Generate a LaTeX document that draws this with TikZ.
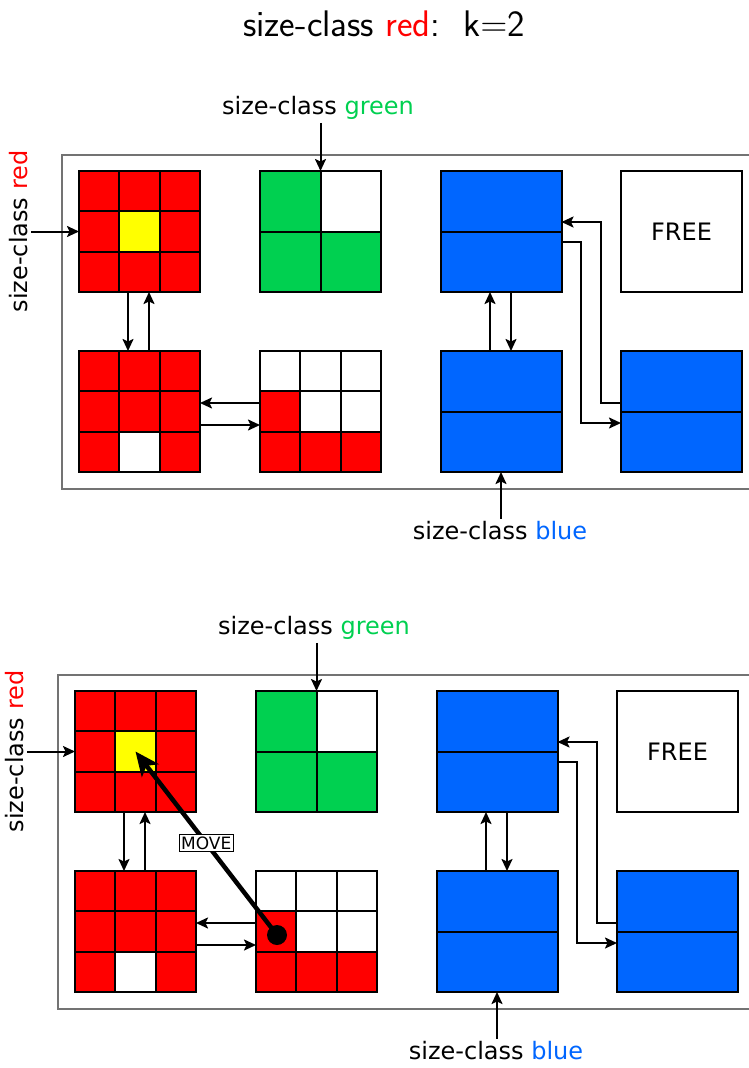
\RequirePackage{fix-cm}
\documentclass[tikz,border=0pt]{standalone}
\usepackage{fontspec}
\newfontfamily\labfont{DejaVu Sans}
\usetikzlibrary{arrows.meta,calc}

\definecolor{cred}{RGB}{255,0,0}
\definecolor{cyel}{RGB}{255,255,0}
\definecolor{cgreen}{RGB}{0,208,80}
\definecolor{cblue}{RGB}{0,102,255}

\tikzset{
  blk/.style={minimum width=121pt, minimum height=121pt, inner sep=0pt, outer sep=0pt},
  edge/.style={line width=2pt},
  link/.style={line width=2pt, -{Stealth[length=12pt,width=11pt,inset=2.5pt]}},
  frame/.style={draw=black!55, line width=1.4pt},
  lab/.style={font=\labfont\fontsize{24}{28}\selectfont, inner sep=3pt},
}

% 3x3 block: #1 node, #2 nine fill colours, row by row from the top
\newcommand\gridthree[2]{%
  \foreach \cl [count=\i from 0] in {#2}{%
    \pgfmathtruncatemacro\rowidx{\i/3}%
    \pgfmathtruncatemacro\colidx{\i-3*\rowidx}%
    \fill[\cl] ($(#1.north west)+(\colidx*121/3,\rowidx*121/3)$) rectangle ++(121/3,121/3);
  }
  \foreach \t in {1,2}{%
    \draw[edge] ($(#1.north west)+(\t*121/3,0)$) -- ($(#1.south west)+(\t*121/3,0)$);
    \draw[edge] ($(#1.north west)+(0,\t*121/3)$) -- ($(#1.north east)+(0,\t*121/3)$);
  }
  \draw[edge] (#1.north west) rectangle (#1.south east);
}

% 2x2 block: #1 node, #2 four fill colours
\newcommand\gridtwo[2]{%
  \foreach \cl [count=\i from 0] in {#2}{%
    \pgfmathtruncatemacro\rowidx{\i/2}%
    \pgfmathtruncatemacro\colidx{\i-2*\rowidx}%
    \fill[\cl] ($(#1.north west)+(\colidx*121/2,\rowidx*121/2)$) rectangle ++(121/2,121/2);
  }
  \draw[edge] (#1.north) -- (#1.south);
  \draw[edge] (#1.west) -- (#1.east);
  \draw[edge] (#1.north west) rectangle (#1.south east);
}

% blue block split in two halves
\newcommand\halves[1]{%
  \fill[cblue] (#1.north west) rectangle (#1.south east);
  \draw[edge] (#1.west) -- (#1.east);
  \draw[edge] (#1.north west) rectangle (#1.south east);
}

% one heap with its three size-class lists; #1 is a name suffix
\newcommand\heap[1]{%
  \draw[frame] (62,155) rectangle (780,489);
  \node[blk] (ra#1) at (139.5,231.5) {};
  \node[blk] (gr#1) at (320.5,231.5) {};
  \node[blk] (bl#1) at (501,231.5) {};
  \node[blk, draw, line width=2pt, font=\labfont\fontsize{24}{28}\selectfont] (fr#1) at (681.5,231.5) {FREE};
  \node[blk] (rb#1) at (139.5,411.5) {};
  \node[blk] (rc#1) at (320.5,411.5) {};
  \node[blk] (bb#1) at (501,411.5) {};
  \node[blk] (bc#1) at (681.5,411.5) {};
  \gridthree{ra#1}{cred,cred,cred,cred,cyel,cred,cred,cred,cred}
  \gridtwo{gr#1}{cgreen,white,cgreen,cgreen}
  \halves{bl#1}
  \gridthree{rb#1}{cred,cred,cred,cred,cred,cred,cred,white,cred}
  \gridthree{rc#1}{white,white,white,cred,white,white,cred,cred,cred}
  \halves{bb#1}
  \halves{bc#1}
  % red list
  \draw[link] ($(ra#1.south)+(-11.5,0)$) -- ($(rb#1.north)+(-11.5,0)$);
  \draw[link] ($(rb#1.north)+(9.5,0)$) -- ($(ra#1.south)+(9.5,0)$);
  \draw[link] ($(rc#1.west)+(0,-8.5)$) -- ($(rb#1.east)+(0,-8.5)$);
  \draw[link] ($(rb#1.east)+(0,13.5)$) -- ($(rc#1.west)+(0,13.5)$);
  % blue list
  \draw[link] ($(bb#1.north)+(-11,0)$) -- ($(bl#1.south)+(-11,0)$);
  \draw[link] ($(bl#1.south)+(10,0)$) -- ($(bb#1.north)+(10,0)$);
  \draw[link] ($(bc#1.west)+(0,-8.5)$) -- ++(-20,0) |- ($(bl#1.east)+(0,-9.5)$);
  \draw[link] ($(bl#1.east)+(0,10.5)$) -- ++(19,0) |- ($(bc#1.west)+(0,11.5)$);
  % list heads
  \node[lab, rotate=90] (lr#1) at (19,231.5) {size-class \textcolor{cred}{red}};
  \draw[link] (lr#1.south |- ra#1.west) -- (ra#1.west);
  \node[lab] (lg#1) at (318,108) {size-class \textcolor{cgreen}{green}};
  \draw[link] (lg#1.south -| gr#1.north) -- (gr#1.north);
  \node[lab] (lb#1) at (500,531) {size-class \textcolor{cblue}{blue}};
  \draw[link] (lb#1.north -| bb#1.south) -- (bb#1.south);
}

\begin{document}
\begin{tikzpicture}[x=1pt, y=-1pt]
  \useasboundingbox (0,0) rectangle (749,1068);
  \node[font=\sffamily\fontsize{37}{44}\selectfont] (title) at (384,24)
    {size-class \textcolor{cred}{red}:\ \ k$=$2};

  \heap{t}

  \begin{scope}[shift={(-4,520)}]
    \heap{b}
    \node[circle, fill=black, minimum size=20pt, inner sep=0pt] (dot) at ($(rcb.north west)+(21,64)$) {};
    \draw[line width=4.5pt, -{Stealth[length=24pt,width=21pt,inset=6pt]}] (dot.center) -- (rab.center)
      node[pos=0.5, fill=white, draw=black, line width=1pt, inner sep=2pt,
           font=\labfont\fontsize{17}{19}\selectfont] (move) {MOVE};
  \end{scope}
\end{tikzpicture}
\end{document}
